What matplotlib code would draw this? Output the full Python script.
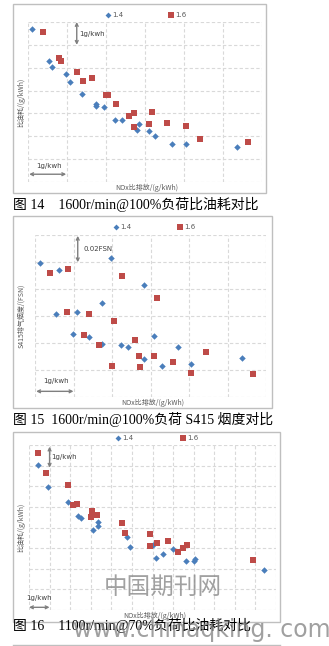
import matplotlib
matplotlib.use('Agg')
import matplotlib.pyplot as plt
from matplotlib.patches import Rectangle

W, H = 329, 646

# ---- data (grid units) ----
# Fig 14: specific fuel consumption vs NOx, 1600r/min 100%
f14_x_14 = [0.11, 0.53, 0.62, 0.98, 1.08, 1.39, 1.74, 1.74, 1.95, 2.22, 2.40, 2.84, 2.79, 3.09, 3.26, 3.70, 4.04, 5.36]
f14_y_14 = [6.68, 5.28, 5.04, 4.71, 4.36, 3.86, 3.43, 3.32, 3.27, 2.71, 2.71, 2.55, 2.27, 2.23, 2.03, 1.65, 1.68, 1.52]
f14_x_16 = [0.39, 0.80, 0.85, 1.25, 1.40, 1.65, 2.00, 2.06, 2.26, 2.59, 2.72, 3.18, 2.71, 3.10, 3.57, 4.05, 4.42, 5.64]
f14_y_16 = [6.57, 5.44, 5.31, 4.83, 4.40, 4.55, 3.80, 3.80, 3.43, 2.87, 3.02, 3.06, 2.39, 2.54, 2.59, 2.43, 1.90, 1.73]

# Fig 15: S415 smoke vs NOx, 1600r/min 100%
f15_x_14 = [0.14, 0.62, 0.55, 1.09, 0.99, 1.41, 1.75, 1.74, 1.97, 2.24, 2.41, 2.84, 2.82, 3.10, 3.29, 3.72, 4.05, 5.37]
f15_y_14 = [4.95, 4.69, 3.06, 3.16, 2.35, 2.22, 3.50, 1.96, 5.15, 1.91, 1.86, 4.15, 1.41, 2.25, 1.16, 1.86, 1.21, 1.46]
f15_x_16 = [0.40, 0.85, 0.82, 1.41, 1.26, 1.67, 2.06, 2.27, 2.59, 2.71, 2.74, 2.01, 3.18, 3.10, 3.58, 4.06, 4.44, 5.65]
f15_y_16 = [4.60, 4.74, 3.16, 3.06, 2.30, 1.92, 2.81, 4.50, 2.10, 1.51, 1.11, 1.16, 3.65, 1.51, 1.31, 0.90, 1.66, 0.87]

# Fig 16: specific fuel consumption vs NOx, 1100r/min 70%
f16_x_14 = [0.42, 0.92, 1.88, 2.37, 2.51, 3.11, 3.34, 3.37, 4.75, 4.89, 6.00, 6.16, 6.50, 7.00, 7.62, 8.02, 8.07, 11.43]
f16_y_14 = [7.03, 5.96, 5.23, 4.56, 4.46, 3.88, 4.07, 4.28, 3.55, 3.07, 3.15, 2.50, 2.73, 2.94, 2.37, 2.37, 2.46, 1.92]
f16_x_16 = [0.42, 0.84, 1.91, 2.14, 2.33, 3.06, 3.03, 3.29, 4.52, 4.67, 5.88, 5.87, 6.22, 6.76, 7.24, 7.49, 7.68, 10.88]
f16_y_16 = [7.59, 6.62, 6.06, 5.09, 5.14, 4.78, 4.52, 4.60, 4.20, 3.72, 3.70, 3.10, 3.25, 3.34, 2.79, 3.00, 3.15, 2.41]

series_names = ['1.4', '1.6']
captions = ['图 14    1600r/min@100%负荷比油耗对比',
            '图 15  1600r/min@100%负荷 S415 烟度对比',
            '图 16    1100r/min@70%负荷比油耗对比']
ylabels = ['比油耗/(g/kWh)', 'S415排气烟度/(FSN)', '比油耗/(g/kWh)']
xlabel = 'NOx比排放/(g/kWh)'

BLUE = '#4a7ebb'
RED = '#be4b48'
CJK = ['Noto Sans CJK SC', 'DejaVu Sans']
SERIF = ['Liberation Serif', 'Noto Sans CJK SC']

fig = plt.figure(figsize=(W / 100, H / 100), dpi=100)


def fx(x):
    return x / W


def fy(y):
    return 1 - y / H


def panel(frame, area, ncols, nrows, xs14, ys14, xs16, ys16, ylab, leg, xlab_y):
    # outer frame
    x0, y0, x1, y1 = frame
    fig.patches.append(Rectangle((fx(x0), fy(y1)), fx(x1 - x0), (y1 - y0) / H,
                                 transform=fig.transFigure, fill=False,
                                 edgecolor='#bfbfbf', linewidth=1.0))
    a0, b0, a1, b1 = area
    ax = fig.add_axes([fx(a0), fy(b1), fx(a1 - a0), (b1 - b0) / H])
    ax.set_xlim(0, ncols)
    ax.set_ylim(0, nrows)
    for v in range(ncols + 1):
        ax.axvline(v, color='#d9d9d9', linewidth=0.8, linestyle=(0, (3, 2)), zorder=0)
    for v in range(nrows + 1):
        ax.axhline(v, color='#d9d9d9', linewidth=0.8, linestyle=(0, (3, 2)), zorder=0)
    for s in ax.spines.values():
        s.set_visible(False)
    ax.set_xticks([])
    ax.set_yticks([])
    ax.patch.set_alpha(0)
    ax.plot(xs14, ys14, 'D', color=BLUE, markersize=3.3, markeredgewidth=0, clip_on=False)
    ax.plot(xs16, ys16, 's', color=RED, markersize=4.6, markeredgewidth=0, clip_on=False)

    # legend
    lx1, lx2, ly = leg
    fig.lines.append(plt.Line2D([fx(lx1)], [fy(ly)], marker='D', color=BLUE, markersize=3,
                                markeredgewidth=0, transform=fig.transFigure))
    fig.text(fx(lx1 + 4), fy(ly), series_names[0], fontsize=5, color='#595959', va='center')
    fig.lines.append(plt.Line2D([fx(lx2)], [fy(ly)], marker='s', color=RED, markersize=3.8,
                                markeredgewidth=0, transform=fig.transFigure))
    fig.text(fx(lx2 + 4), fy(ly), series_names[1], fontsize=5, color='#595959', va='center')

    # axis titles
    fig.text(fx(21), fy((b0 + b1) / 2), ylab, rotation=90, fontsize=5, color='#595959',
             family=CJK, ha='center', va='center')
    fig.text(fx((a0 + a1) / 2 + 2), fy(xlab_y), xlabel, fontsize=5, color='#595959',
             family=CJK, ha='center', va='center')
    return ax


def darrow(ax, p0, p1):
    ax.annotate('', xy=p1, xytext=p0,
                arrowprops=dict(arrowstyle='<->', color='#7f7f7f', lw=1.0,
                                mutation_scale=5, shrinkA=0, shrinkB=0))


# ---- Fig 14 ----
ax1 = panel((13, 4, 266, 193), (28, 22, 262, 182), 6, 7,
            f14_x_14, f14_y_14, f14_x_16, f14_y_16, ylabels[0], (108, 171, 15), 188)
darrow(ax1, (1.25, 7.0), (1.25, 6.0))
ax1.text(1.31, 6.49, '1g/kwh', fontsize=5, color='#404040', va='center')
darrow(ax1, (0.03, 0.34), (0.98, 0.34))
ax1.text(0.21, 0.70, '1g/kwh', fontsize=5, color='#404040', va='center')

# ---- Fig 15 ----
ax2 = panel((13, 216, 272, 408), (35, 235, 266, 397), 6, 6,
            f15_x_14, f15_y_14, f15_x_16, f15_y_16, ylabels[1], (116, 180, 227), 403)
darrow(ax2, (1.11, 5.97), (1.11, 4.99))
ax2.text(1.26, 5.48, '0.02FSN', fontsize=5, color='#404040', va='center')
darrow(ax2, (0.03, 0.21), (1.0, 0.21))
ax2.text(0.22, 0.59, '1g/kwh', fontsize=5, color='#404040', va='center')

# ---- Fig 16 ----
ax3 = panel((13, 432, 280, 622), (29, 445, 276, 610), 12, 8,
            f16_x_14, f16_y_14, f16_x_16, f16_y_16, ylabels[2], (118, 183, 438), 616)
darrow(ax3, (1.0, 7.92), (1.0, 6.9))
ax3.text(1.09, 7.4, '1g/kwh', fontsize=5, color='#404040', va='center')
darrow(ax3, (0.0, 0.13), (1.0, 0.13))
ax3.text(0.5, 0.57, '1g/kwh', fontsize=5, color='#404040', va='center', ha='center')

# captions
for cy, cap in zip([204, 419, 625], captions):
    fig.text(fx(13), fy(cy), cap, fontsize=10, color='black', family=SERIF, va='center')

# bottom rule (top of next frame)
fig.lines.append(plt.Line2D([fx(13), fx(280)], [fy(645), fy(645)], color='#bfbfbf',
                            linewidth=1.0, transform=fig.transFigure))

# watermarks
fig.text(fx(163), fy(587), '中国期刊网', fontsize=17, color='#8a8a8a', family=CJK,
         ha='center', va='center', alpha=0.8)
fig.text(fx(331), fy(630), 'www.chinaqking. com', fontsize=17, color='#808080',
         ha='right', va='center', alpha=0.75)

fig.savefig('out.png', dpi=100)
